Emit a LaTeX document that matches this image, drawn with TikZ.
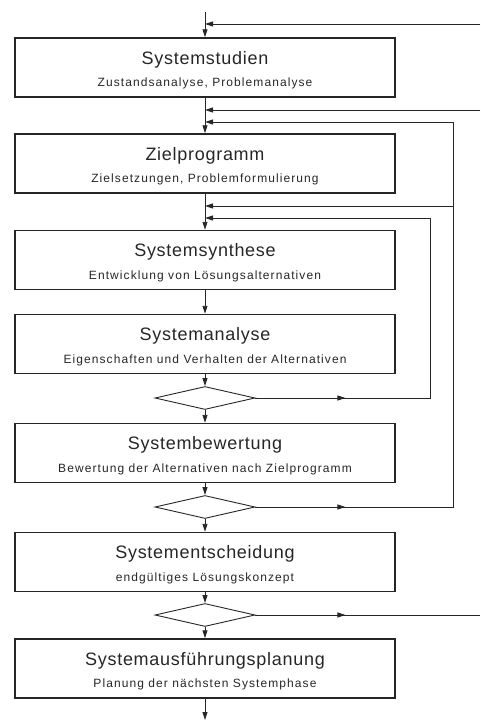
\documentclass[tikz,border=0pt]{standalone}
\usepackage{fontspec}
\setmainfont{Liberation Sans}
\usetikzlibrary{arrows.meta,shapes.geometric,decorations.markings}
\newfontfamily\headfont[LetterSpace=4]{Liberation Sans}
\newfontfamily\subfont[LetterSpace=9]{Liberation Sans}
\newcommand{\phase}[2]{{\headfont\fontsize{18}{20}\selectfont\rule{0pt}{18.5pt}#1}\\[9pt]{\subfont\fontsize{12}{13}\selectfont #2}}
\definecolor{ink}{HTML}{262626}
\begin{document}
\begin{tikzpicture}[x=1pt,y=-1pt,
  line/.style={draw=ink,line width=0.9pt},
  arr/.style={line,-{Triangle[length=8pt,width=5pt]}},
  midarr/.style={line,postaction={decorate},
    decoration={markings,mark=at position 90pt with {\arrow{Triangle[length=8pt,width=5pt]}}}},
  phasebox/.style={draw=ink,line width=1.4pt,minimum width=380pt,minimum height=59pt,
    inner sep=0pt,align=center,text=ink},
  check/.style={draw=ink,line width=0.9pt,shape=diamond,inner sep=0pt,
    minimum width=100pt,minimum height=23pt}]
\useasboundingbox (0,0) rectangle (480,722);

% phases of the process
\node[phasebox] (b1) at (205,67.5) {\phase{Systemstudien}{Zustandsanalyse, Problemanalyse}};
\node[phasebox] (b2) at (205,163.5) {\phase{Zielprogramm}{Zielsetzungen, Problemformulierung}};
\node[phasebox] (b3) at (205,260) {\phase{Systemsynthese}{Entwicklung von Lösungsalternativen}};
\node[phasebox] (b4) at (205,344) {\phase{Systemanalyse}{Eigenschaften und Verhalten der Alternativen}};
\node[check] (d1) at (205,398) {};
\node[phasebox] (b5) at (205,453) {\phase{Systembewertung}{Bewertung der Alternativen nach Zielprogramm}};
\node[check] (d2) at (205,507) {};
\node[phasebox] (b6) at (205,562) {\phase{Systementscheidung}{endgültiges Lösungskonzept}};
\node[check] (d3) at (205,615) {};
\node[phasebox] (b7) at (205,668.5) {\phase{Systemausführungsplanung}{Planung der nächsten Systemphase}};

% entry, exit and junctions on the main line
\coordinate (start) at (205,12);
\coordinate (finish) at (205,720);
\coordinate (j1) at (205,24);
\coordinate (j2) at (205,110);
\coordinate (j3) at (205,122);
\coordinate (j4) at (205,206);
\coordinate (j5) at (205,218);

% inputs from outside the picture
\coordinate (in1) at (480,24);
\coordinate (in2) at (480,110);
\coordinate (out3) at (480,615);

% return loops
\coordinate (r2a) at (453,507);
\coordinate (r2b) at (453,122);
\coordinate (r2c) at (453,206);
\coordinate (r1a) at (430,398);
\coordinate (r1b) at (430,218);

% main flow
\draw[arr] (start) -- (b1.north);
\draw[arr] (b1.south) -- (b2.north);
\draw[arr] (b2.south) -- (b3.north);
\draw[arr] (b3.south) -- (b4.north);
\draw[arr] (b4.south) -- (d1.north);
\draw[arr] (d1.south) -- (b5.north);
\draw[arr] (b5.south) -- (d2.north);
\draw[arr] (d2.south) -- (b6.north);
\draw[arr] (b6.south) -- (d3.north);
\draw[arr] (d3.south) -- (b7.north);
\draw[arr] (b7.south) -- (finish);

% feedback into the main line
\draw[arr] (in1) -- (j1);
\draw[arr] (in2) -- (j2);
\draw[midarr] (d1.east) -- (r1a) -- (r1b);
\draw[arr] (r1b) -- (j5);
\draw[midarr] (d2.east) -- (r2a) -- (r2b);
\draw[arr] (r2b) -- (j3);
\draw[arr] (r2c) -- (j4);
\draw[midarr] (d3.east) -- (out3);
\end{tikzpicture}
\end{document}
